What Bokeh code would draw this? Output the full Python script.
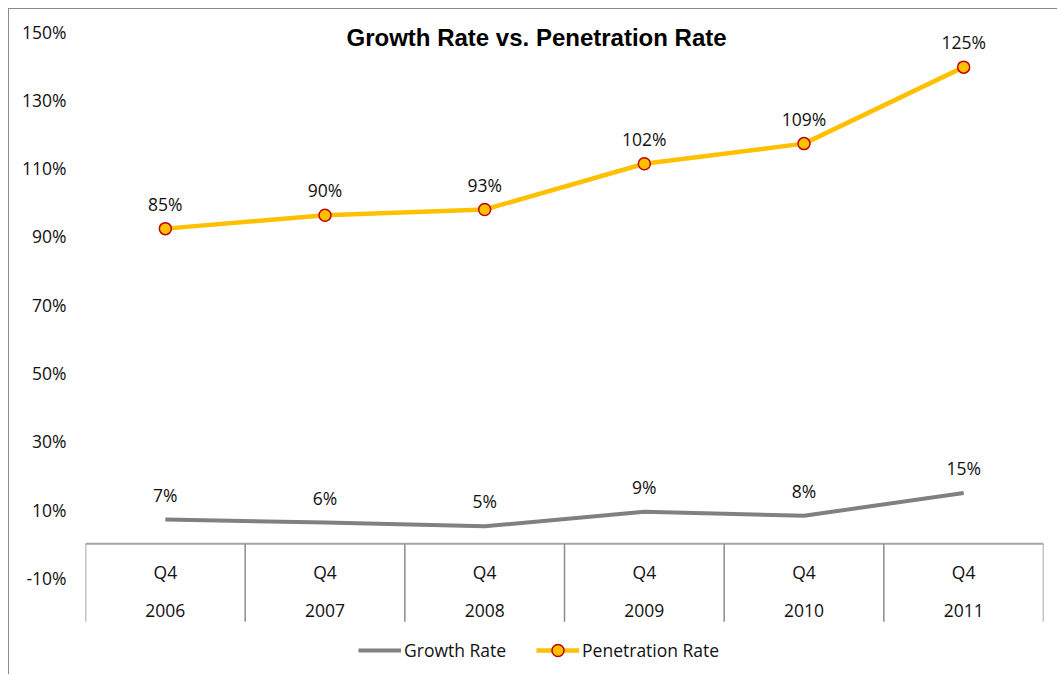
from bokeh.plotting import figure
from bokeh.models import FixedTicker, Legend, LegendItem
from bokeh.core.properties import value
from bokeh.embed import file_html
from bokeh.resources import INLINE

# ---- data ----
quarters = ["Q4", "Q4", "Q4", "Q4", "Q4", "Q4"]
years = ["2006", "2007", "2008", "2009", "2010", "2011"]
growth_rate = [7.1, 6.2, 5.1, 9.4, 8.2, 14.9]
growth_labels = ["7%", "6%", "5%", "9%", "8%", "15%"]
penetration_rate = [92.3, 96.2, 97.9, 111.3, 117.2, 139.6]
penetration_labels = ["85%", "90%", "93%", "102%", "109%", "125%"]
y_ticks = [-10, 10, 30, 50, 70, 90, 110, 130, 150]
y_tick_labels = ["-10%", "10%", "30%", "50%", "70%", "90%", "110%", "130%", "150%"]
chart_title = "Growth Rate vs. Penetration Rate"

FONT = value("Open Sans")
TXT = "#111111"
n = len(years)
idx = list(range(n))

p = figure(width=1049, height=666, x_range=(-0.5, n - 0.5), y_range=(-37.7, 155.6),
           output_backend="svg", toolbar_location=None,
           min_border_left=76, min_border_right=15, min_border_top=3, min_border_bottom=3)
p.outline_line_color = None
p.grid.visible = False
p.xaxis.visible = False
p.background_fill_color = "white"
p.border_fill_color = "white"
p.styles = {"margin-left": "8px", "margin-top": "8px",
            "border-left": "1px solid #8a8a8a", "border-top": "1px solid #8a8a8a"}

yax = p.yaxis[0]
yax.ticker = FixedTicker(ticks=y_ticks)
yax.major_label_overrides = {t: l for t, l in zip(y_ticks, y_tick_labels)}
yax.axis_line_color = None
yax.major_tick_line_color = None
yax.minor_tick_line_color = None
yax.major_tick_out = 0
yax.major_tick_in = 0
yax.major_label_standoff = 19
yax.major_label_text_font = "Open Sans"
yax.major_label_text_font_size = "17.5px"
yax.major_label_text_color = TXT

# category axis drawn at 0
p.segment(x0=[-0.5], y0=[0], x1=[n - 0.5], y1=[0], line_color="#a6a6a6", line_width=2)
bounds = [i - 0.5 for i in range(n + 1)]
p.segment(x0=bounds, y0=[0] * len(bounds), x1=bounds, y1=[-22.8] * len(bounds),
          line_color="#8c8c8c", line_width=1.5)
p.text(x=idx, y=[0] * n, text=quarters, text_align="center", text_baseline="middle",
       y_offset=28, text_font=FONT, text_font_size="17.5px", text_color=TXT)
p.text(x=idx, y=[0] * n, text=years, text_align="center", text_baseline="middle",
       y_offset=67, text_font=FONT, text_font_size="17.5px", text_color=TXT)

# series
g_line = p.line(idx, growth_rate, line_color="#808080", line_width=4)
p_line = p.line(idx, penetration_rate, line_color="#FFC000", line_width=4.5)
p_pts = p.scatter(idx, penetration_rate, size=12, fill_color="#FFC000",
                  line_color="#C00000", line_width=1.5)

p.text(x=idx, y=growth_rate, text=growth_labels, text_align="center", text_baseline="middle",
       y_offset=-25, text_font=FONT, text_font_size="17.5px", text_color=TXT)
p.text(x=idx, y=penetration_rate, text=penetration_labels, text_align="center",
       text_baseline="middle", y_offset=-25, text_font=FONT, text_font_size="17.5px",
       text_color=TXT)

# title
p.text(x=[2.325], y=[148.2], text=[chart_title], text_align="center", text_baseline="middle",
       text_font=value("Liberation Sans"), text_font_style="bold", text_font_size="24px",
       text_color="#000000")

legend = Legend(items=[LegendItem(label="Growth Rate", renderers=[g_line]),
                       LegendItem(label="Penetration Rate", renderers=[p_line, p_pts])],
                location=(273, 7), orientation="horizontal", glyph_width=43, glyph_height=30,
                label_standoff=3, spacing=30, padding=0, margin=0,
                border_line_color=None, background_fill_alpha=0,
                label_text_font="Open Sans", label_text_font_size="17.5px",
                label_text_color=TXT)
p.add_layout(legend)

open("out.html", "w").write(file_html(p, INLINE))
